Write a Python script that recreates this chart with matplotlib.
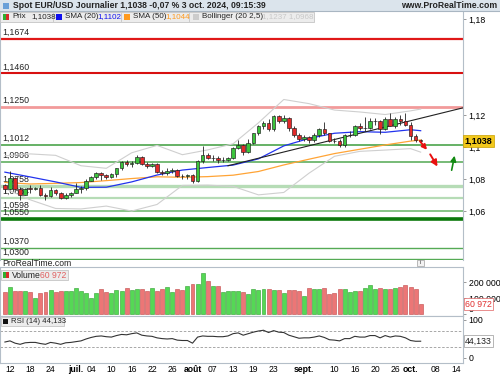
import numpy as np
import pandas as pd
import matplotlib
matplotlib.use('Agg')
import matplotlib.pyplot as plt
import matplotlib.transforms as mtransforms
from matplotlib.patches import Rectangle

plt.rcParams['font.family'] = ['Liberation Sans', 'DejaVu Sans']

# daily candles, 11 juin -> 3 oct. 2024
days = pd.bdate_range('2024-06-11', '2024-10-03')
calendar = pd.bdate_range('2024-06-11', '2024-10-18')

opens = [1.0765, 1.0740, 1.0806, 1.0740, 1.0703, 1.0742, 1.0737, 1.0745, 1.0703, 1.0693,
         1.0733, 1.0715, 1.0681, 1.0702, 1.0713, 1.0740, 1.0743, 1.0790, 1.0810, 1.0840,
         1.0826, 1.0814, 1.0830, 1.0868, 1.0907, 1.0893, 1.0899, 1.0939, 1.0896, 1.0882,
         1.0891, 1.0845, 1.0840, 1.0848, 1.0857, 1.0819, 1.0817, 1.0825, 1.0789, 1.0910,
         1.0953, 1.0930, 1.0932, 1.0920, 1.0922, 1.0932, 1.0993, 1.1012, 1.0967, 1.1027,
         1.1085, 1.1130, 1.1151, 1.1114, 1.1193, 1.1160, 1.1184, 1.1120, 1.1077, 1.1048,
         1.1065, 1.1045, 1.1078, 1.1110, 1.1085, 1.1039, 1.1035, 1.1015, 1.1074, 1.1075,
         1.1133, 1.1117, 1.1118, 1.1162, 1.1163, 1.1111, 1.1178, 1.1134, 1.1175, 1.1163,
         1.1135, 1.1068, 1.1045]
highs = [1.0768, 1.0852, 1.0814, 1.0750, 1.0746, 1.0762, 1.0752, 1.0761, 1.0713, 1.0748,
         1.0740, 1.0720, 1.0711, 1.0721, 1.0776, 1.0755, 1.0799, 1.0816, 1.0844, 1.0845,
         1.0830, 1.0835, 1.0871, 1.0910, 1.0922, 1.0911, 1.0948, 1.0945, 1.0908, 1.0900,
         1.0898, 1.0855, 1.0868, 1.0871, 1.0863, 1.0830, 1.0834, 1.0830, 1.0920, 1.1008,
         1.0962, 1.0948, 1.0944, 1.0935, 1.0939, 1.1000, 1.1046, 1.1020, 1.1048, 1.1090,
         1.1140, 1.1160, 1.1174, 1.1202, 1.1200, 1.1202, 1.1190, 1.1130, 1.1085, 1.1075,
         1.1070, 1.1090, 1.1120, 1.1155, 1.1090, 1.1055, 1.1050, 1.1080, 1.1100, 1.1140,
         1.1147, 1.1190, 1.1180, 1.1180, 1.1168, 1.1190, 1.1214, 1.1190, 1.1200, 1.1210,
         1.1155, 1.1082, 1.1050]
lows = [1.0712, 1.0735, 1.0735, 1.0668, 1.0698, 1.0715, 1.0730, 1.0695, 1.0671, 1.0690,
        1.0699, 1.0676, 1.0677, 1.0690, 1.0710, 1.0710, 1.0730, 1.0788, 1.0800, 1.0792,
        1.0800, 1.0805, 1.0810, 1.0855, 1.0880, 1.0873, 1.0895, 1.0888, 1.0872, 1.0873,
        1.0840, 1.0826, 1.0826, 1.0840, 1.0814, 1.0802, 1.0802, 1.0778, 1.0780, 1.0900,
        1.0924, 1.0914, 1.0903, 1.0904, 1.0910, 1.0925, 1.0990, 1.0950, 1.0960, 1.1020,
        1.1075, 1.1110, 1.1100, 1.1103, 1.1150, 1.1150, 1.1103, 1.1060, 1.1040, 1.1040,
        1.1027, 1.1030, 1.1065, 1.1075, 1.1030, 1.1025, 1.1002, 1.1000, 1.1060, 1.1070,
        1.1105, 1.1100, 1.1110, 1.1140, 1.1082, 1.1105, 1.1130, 1.1120, 1.1140, 1.1130,
        1.1045, 1.1033, 1.1030]
closes = [1.0740, 1.0806, 1.0740, 1.0703, 1.0737, 1.0737, 1.0745, 1.0703, 1.0693, 1.0733,
          1.0715, 1.0681, 1.0702, 1.0713, 1.0740, 1.0743, 1.0790, 1.0810, 1.0840, 1.0826,
          1.0814, 1.0830, 1.0868, 1.0907, 1.0893, 1.0899, 1.0939, 1.0896, 1.0882, 1.0891,
          1.0845, 1.0840, 1.0848, 1.0857, 1.0819, 1.0817, 1.0825, 1.0789, 1.0910, 1.0953,
          1.0930, 1.0932, 1.0920, 1.0922, 1.0932, 1.0993, 1.1012, 1.0967, 1.1027, 1.1085,
          1.1130, 1.1151, 1.1114, 1.1193, 1.1160, 1.1184, 1.1120, 1.1077, 1.1048, 1.1065,
          1.1045, 1.1078, 1.1110, 1.1085, 1.1039, 1.1035, 1.1015, 1.1074, 1.1075, 1.1133,
          1.1117, 1.1118, 1.1162, 1.1163, 1.1111, 1.1178, 1.1134, 1.1175, 1.1163, 1.1135,
          1.1068, 1.1045, 1.1038]
volumes = [136, 167, 146, 146, 146, 136, 98, 133, 136, 148,
           136, 142, 142, 146, 160, 144, 129, 102, 129, 154,
           136, 129, 152, 142, 160, 148, 156, 154, 146, 160,
           142, 156, 169, 136, 154, 148, 175, 185, 185, 258,
           204, 177, 177, 136, 142, 146, 146, 140, 123, 154,
           152, 154, 156, 148, 148, 133, 148, 148, 146, 113,
           160, 154, 154, 160, 125, 133, 154, 154, 138, 146,
           146, 160, 179, 156, 160, 154, 154, 164, 167, 179,
           167, 154, 60.972]  # milliers
rsi = [42, 45, 39, 36, 40, 41, 41, 38, 36, 41,
       39, 36, 40, 41, 43, 45, 50, 54, 57, 58,
       56, 55, 59, 62, 61, 64, 66, 60, 58, 57,
       53, 51, 50, 51, 47, 46, 46, 39, 55, 58,
       57, 57, 56, 56, 58, 64, 66, 60, 64, 68,
       71, 73, 67, 72, 68, 67, 60, 56, 52, 53,
       53, 55, 58, 54, 48, 47, 45, 51, 51, 57,
       55, 55, 59, 59, 53, 59, 55, 58, 57, 53,
       46, 44, 44.133]

# indicator readings, one every 5 sessions
ind_dates = ['2024-06-11', '2024-06-18', '2024-06-25', '2024-07-02', '2024-07-09', '2024-07-16',
             '2024-07-23', '2024-07-30', '2024-08-06', '2024-08-13', '2024-08-20', '2024-08-27',
             '2024-09-03', '2024-09-10', '2024-09-17', '2024-09-24', '2024-10-01', '2024-10-03']
sma20 = [1.0843, 1.0813, 1.0782, 1.0748, 1.0749, 1.0782, 1.0825, 1.0856, 1.0872, 1.0887,
         1.0926, 1.1007, 1.1054, 1.1086, 1.1096, 1.1092, 1.1108, 1.1102]
sma50 = [1.0779, 1.0769, 1.0773, 1.0778, 1.0790, 1.0803, 1.0814, 1.0811, 1.0815, 1.0824,
         1.0847, 1.0888, 1.0924, 1.0959, 1.0986, 1.1013, 1.1037, 1.1044]
bb_up = [1.0945, 1.0957, 1.0948, 1.0883, 1.0867, 1.0964, 1.1010, 1.0952, 1.0982, 1.1020,
         1.1151, 1.1297, 1.1271, 1.1231, 1.1219, 1.1203, 1.1226, 1.1237]
bb_low = [1.0741, 1.0670, 1.0616, 1.0613, 1.0631, 1.0600, 1.0641, 1.0760, 1.0762, 1.0754,
          1.0701, 1.0716, 1.0837, 1.0942, 1.0973, 1.0981, 1.0990, 1.0968]

trend_dates = ['2024-08-12', '2024-10-16']
trend_vals = [1.0883, 1.1250]

levels = [1.1674, 1.1460, 1.1250, 1.1012, 1.0906, 1.0758, 1.0684, 1.0598, 1.0550, 1.0370, 1.0300]
level_labels = ['1,1674', '1,1460', '1,1250', '1,1012', '1,0906', '1,0758', '1,0684',
                '1,0598', '1,0550', '1,0370', '1,0300']
level_colors = ['#e01818', '#d81010', '#f29a9a', '#3c9c3c', '#52a852', '#b6dcb6', '#b6dcb6',
                '#66b466', '#0b780b', '#55aa55', '#55aa55']
level_widths = [1.6, 1.5, 2.0, 1.1, 1.1, 2.4, 1.6, 1.1, 2.6, 1.0, 1.0]

tick_dates = ['2024-06-12', '2024-06-18', '2024-06-24', '2024-07-01', '2024-07-04', '2024-07-10',
              '2024-07-16', '2024-07-22', '2024-07-26', '2024-08-01', '2024-08-07', '2024-08-13',
              '2024-08-19', '2024-08-23', '2024-09-02', '2024-09-10', '2024-09-16', '2024-09-20',
              '2024-09-26', '2024-10-01', '2024-10-08', '2024-10-14']
tick_labels = ['12', '18', '24', 'juil.', '04', '10', '16', '22', '26', 'août', '07', '13',
               '19', '23', 'sept.', '10', '16', '20', '26', 'oct.', '08', '14']

# projection arrows (session offset, price)
red_path_x = [81.5, 83.6, 85.6]
red_path_y = [1.1050, 1.0969, 1.0863]
green_path_x = [88.0, 88.8]
green_path_y = [1.0838, 1.0963]


def pos(d):
    return calendar.get_loc(pd.Timestamp(d))


W, H = 500, 375
fig = plt.figure(figsize=(5, 3.75), dpi=100)


def fx(x):
    return x / W


def fy(y):
    return 1 - y / H


GRID = '#b4bec8'
xlo, xhi = -0.97, 90.35
x = np.arange(len(days))
o = np.array(opens); c = np.array(closes); hi = np.array(highs); lo = np.array(lows)
up = c >= o

# ---------- main price panel
ax = fig.add_axes([0, fy(260), fx(463), (260 - 11) / H])
ax.set_xlim(xlo, xhi)
ax.set_ylim(1.0294, 1.185)
blend = mtransforms.blended_transform_factory(ax.transAxes, ax.transData)
for v, lab, col, lw in zip(levels, level_labels, level_colors, level_widths):
    ax.axhline(v, color=col, lw=lw, zorder=1)
    ax.text(0.004, v + 0.0012, lab, transform=blend, fontsize=6.3, color='#222222',
            va='bottom', ha='left', zorder=1.5)

ix = [pos(d) for d in ind_dates]
ax.plot(ix, bb_up, color='#cfcfcf', lw=0.8, zorder=2)
ax.plot(ix, bb_low, color='#cfcfcf', lw=0.8, zorder=2)
ax.plot(ix, sma50, color='#ffa436', lw=0.9, zorder=2)
ax.plot(ix, sma20, color='#2233ee', lw=0.9, zorder=2)
ax.plot([pos(d) for d in trend_dates], trend_vals, color='#222222', lw=0.8, zorder=2)

ax.vlines(x, lo, hi, color='#222222', lw=0.6, zorder=3)
body = np.maximum(np.abs(c - o), 0.00012)
ax.bar(x, body, bottom=np.minimum(o, c), width=0.72,
       color=np.where(up, '#3cc43c', '#e22a2a'), edgecolor='#1e1e1e', lw=0.45, zorder=4)

ax.annotate('', xy=(red_path_x[1], red_path_y[1]), xytext=(red_path_x[0], red_path_y[0]),
            arrowprops=dict(arrowstyle='-|>', color='#e81010', lw=1.4, mutation_scale=7), zorder=5)
ax.annotate('', xy=(red_path_x[2], red_path_y[2]), xytext=(red_path_x[1], red_path_y[1]),
            arrowprops=dict(arrowstyle='-|>', color='#e81010', lw=1.4, mutation_scale=9), zorder=5)
ax.annotate('', xy=(green_path_x[1], green_path_y[1]), xytext=(green_path_x[0], green_path_y[0]),
            arrowprops=dict(arrowstyle='-|>', color='#128a12', lw=1.2, mutation_scale=8), zorder=5)

ax.yaxis.tick_right()
ax.set_yticks([1.06, 1.08, 1.10, 1.12, 1.18])
ax.set_yticklabels(['1,06', '1,08', '1,1', '1,12', '1,18'])
ax.tick_params(axis='y', length=2, width=0.6, color='#888888', labelsize=6.3, pad=2)
ax.set_xticks([])
for s in ['top', 'bottom']:
    ax.spines[s].set_visible(False)
ax.spines['right'].set_color(GRID)
ax.spines['left'].set_color(GRID)
ax.text(1.004, 1.1038, '1,1038', transform=blend, fontsize=6.5, fontweight='bold', va='center',
        ha='left', bbox=dict(boxstyle='square,pad=0.15', fc='#f2c81c', ec='#c9a000', lw=0.5),
        clip_on=False, zorder=6)

# ---------- volume panel
axv = fig.add_axes([0, fy(316), fx(463), 49 / H])
axv.set_xlim(xlo, xhi)
axv.set_ylim(-12.5, 293.75)
axv.bar(x, volumes, width=0.78, color=np.where(up, '#55d855', '#ec7676'),
        edgecolor=np.where(up, '#2e9e2e', '#c04848'), lw=0.4, zorder=2)
axv.yaxis.tick_right()
axv.set_yticks([0, 100, 200])
axv.set_yticklabels(['0', '100 000', '200 000'])
axv.tick_params(axis='y', length=2, width=0.6, color='#888888', labelsize=6.3, pad=2)
axv.get_yticklabels()[0].set_va('bottom')
axv.set_xticks([])
for s in axv.spines.values():
    s.set_color(GRID)
axv.text(1.004, volumes[-1], '60 972', transform=mtransforms.blended_transform_factory(
    axv.transAxes, axv.transData), fontsize=6.3, color='#e03030', va='center', ha='left',
    bbox=dict(boxstyle='square,pad=0.15', fc='white', ec='#e06060', lw=0.5), clip_on=False, zorder=6)

# ---------- RSI panel
axr = fig.add_axes([0, fy(363), fx(463), (363 - 316) / H])
axr.set_xlim(xlo, xhi)
axr.set_ylim(-13.2, 110.5)
axr.axhline(70, color='#9a9a9a', lw=0.6, ls=(0, (3, 2)))
axr.axhline(30, color='#9a9a9a', lw=0.6, ls=(0, (3, 2)))
axr.plot(x, rsi, color='#333333', lw=0.8)
axr.yaxis.tick_right()
axr.set_yticks([0, 100])
axr.set_yticklabels(['0', '100'])
axr.tick_params(axis='y', length=2, width=0.6, color='#888888', labelsize=6.3, pad=2)
axr.set_xticks([pos(d) for d in tick_dates])
axr.set_xticklabels(tick_labels)
axr.tick_params(axis='x', length=0, labelsize=6.2, pad=1.5)
for lab in axr.get_xticklabels():
    if lab.get_text().endswith('.') or lab.get_text() == 'août':
        lab.set_fontweight('bold')
for s in axr.spines.values():
    s.set_color(GRID)
axr.text(1.004, rsi[-1], '44,133', transform=mtransforms.blended_transform_factory(
    axr.transAxes, axr.transData), fontsize=6.3, color='#222222', va='center', ha='left',
    bbox=dict(boxstyle='square,pad=0.15', fc='white', ec='#999999', lw=0.5), clip_on=False, zorder=6)

# ---------- header, legends and separators
fig.patches.append(Rectangle((0, fy(11)), 1, 11 / H, transform=fig.transFigure,
                             fc='#dbe4ec', ec='none', zorder=0))
fig.add_artist(plt.Line2D([0, 1], [fy(11), fy(11)], color='#a9b6c2', lw=0.8))
fig.patches.append(Rectangle((fx(3), fy(9)), fx(6), 6 / H, transform=fig.transFigure,
                             fc='#6aa0d8', ec='none'))
fig.text(fx(13), fy(5.5), 'Spot EUR/USD Journalier 1,1038 -0,07 % 3 oct. 2024, 09:15:39',
         fontsize=6.2, fontweight='bold', va='center', ha='left', color='#222222')
fig.text(fx(497), fy(5.5), 'www.ProRealTime.com', fontsize=6.2, fontweight='bold',
         va='center', ha='right', color='#222222')

fig.patches.append(Rectangle((0, fy(22)), fx(314), 10 / H, transform=fig.transFigure,
                             fc='#ececec', ec='#c4c4c4', lw=0.6, zorder=3))
legend_items = [(3, ['#2fae2f', '#d82a2a'], 'Prix'),
                (56, ['#1010ee'], 'SMA (20)'),
                (124, ['#ff9a1e'], 'SMA (50)'),
                (193, ['#cccccc'], 'Bollinger (20 2,5)')]
for (lx, cols, name) in legend_items:
    for j, col in enumerate(cols):
        wbox = 6 / len(cols)
        fig.patches.append(Rectangle((fx(lx + j * wbox), fy(20)), fx(wbox), 6 / H,
                                     transform=fig.transFigure, fc=col, ec='none', zorder=4))
    fig.text(fx(lx + 9), fy(17), name, fontsize=5.8, va='center', ha='left', color='#222222',
             zorder=5)
for (vx, val, vcol) in [(31, '1,1038', '#222222'), (97, '1,1102', '#1010ee'),
                        (165, '1,1044', '#ff9a1e'), (262, '1,1237 1,0968', '#c8c8c8')]:
    fig.text(fx(vx), fy(17), val, fontsize=5.8, va='center', ha='left', color=vcol, zorder=5)
for sx in [53, 121, 189]:
    fig.add_artist(plt.Line2D([fx(sx), fx(sx)], [fy(21), fy(13)], color='#c4c4c4', lw=0.6,
                              zorder=5))

# strip between price and volume
fig.add_artist(plt.Line2D([0, fx(463)], [fy(267), fy(267)], color=GRID, lw=0.6))
fig.text(fx(2), fy(263.5), 'ProRealTime.com', fontsize=6.2, va='center', ha='left',
         color='#222222')
fig.patches.append(Rectangle((fx(417), fy(266)), fx(7), 6 / H, transform=fig.transFigure,
                             fc='#f2f2f2', ec='#a0a0a0', lw=0.5))
fig.text(fx(420.5), fy(263), 'i', fontsize=4.5, va='center', ha='center', color='#444444')

fig.patches.append(Rectangle((fx(1), fy(280)), fx(67), 10 / H, transform=fig.transFigure,
                             fc='#ececec', ec='#c4c4c4', lw=0.6, zorder=3))
fig.patches.append(Rectangle((fx(3), fy(278)), fx(3), 6 / H, transform=fig.transFigure,
                             fc='#2fae2f', ec='none', zorder=4))
fig.patches.append(Rectangle((fx(6), fy(278)), fx(3), 6 / H, transform=fig.transFigure,
                             fc='#d82a2a', ec='none', zorder=4))
fig.text(fx(12), fy(275), 'Volume', fontsize=6.2, va='center', ha='left', color='#222222', zorder=5)
fig.text(fx(40), fy(275), '60 972', fontsize=6.2, va='center', ha='left', color='#e06060', zorder=5)

fig.patches.append(Rectangle((fx(1), fy(326)), fx(63), 9 / H, transform=fig.transFigure,
                             fc='#ececec', ec='#c4c4c4', lw=0.6, zorder=3))
fig.patches.append(Rectangle((fx(3), fy(324)), fx(5), 5 / H, transform=fig.transFigure,
                             fc='#111111', ec='none', zorder=4))
fig.text(fx(11), fy(321.5), 'RSI (14) 44,133', fontsize=5.6, va='center', ha='left',
         color='#222222', zorder=5)

fig.savefig('out.png', dpi=100)
